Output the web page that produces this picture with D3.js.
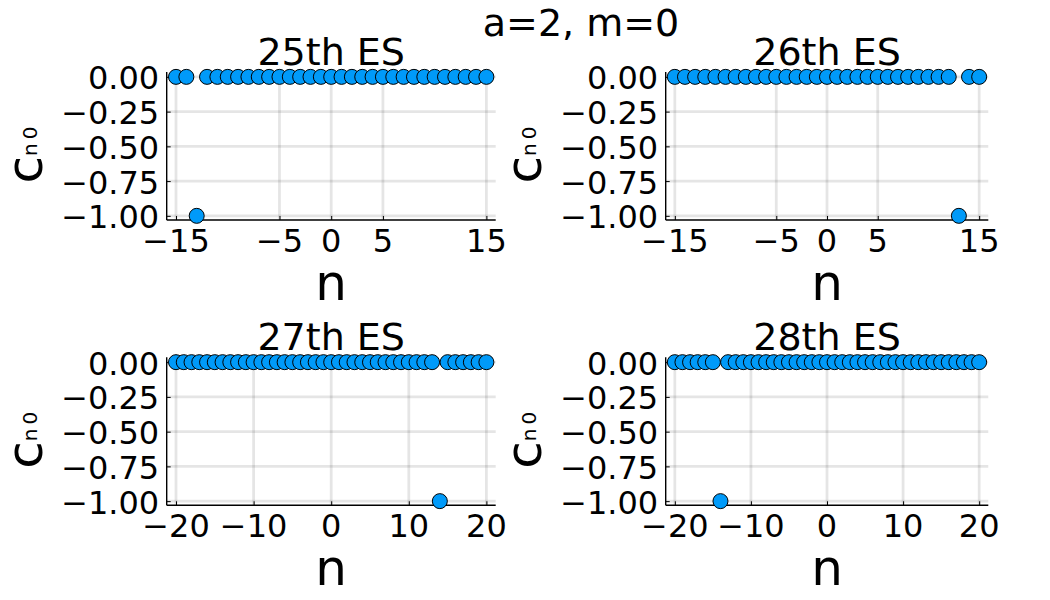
<!DOCTYPE html>
<html>
<head>
<meta charset="utf-8">
<script src="https://cdn.jsdelivr.net/npm/d3@7"></script>
<style>
  body { margin: 0; background: #fff; }
  text { font-family: "DejaVu Sans", sans-serif; fill: #000; }
</style>
</head>
<body>
<div id="chart"></div>
<script>
// data
var nShort = [-15, -14, -13, -12, -11, -10, -9, -8, -7, -6, -5, -4, -3, -2, -1, 0,
              1, 2, 3, 4, 5, 6, 7, 8, 9, 10, 11, 12, 13, 14, 15];
var nLong = [-20, -19, -18, -17, -16, -15, -14, -13, -12, -11, -10, -9, -8, -7, -6, -5, -4, -3, -2, -1, 0,
             1, 2, 3, 4, 5, 6, 7, 8, 9, 10, 11, 12, 13, 14, 15, 16, 17, 18, 19, 20];

var c25 = [0, 0, -1, 0, 0, 0, 0, 0, 0, 0, 0, 0, 0, 0, 0, 0,
           0, 0, 0, 0, 0, 0, 0, 0, 0, 0, 0, 0, 0, 0, 0];
var c26 = [0, 0, 0, 0, 0, 0, 0, 0, 0, 0, 0, 0, 0, 0, 0, 0,
           0, 0, 0, 0, 0, 0, 0, 0, 0, 0, 0, 0, -1, 0, 0];
var c27 = [0, 0, 0, 0, 0, 0, 0, 0, 0, 0, 0, 0, 0, 0, 0, 0, 0, 0, 0, 0, 0,
           0, 0, 0, 0, 0, 0, 0, 0, 0, 0, 0, 0, 0, -1, 0, 0, 0, 0, 0, 0];
var c28 = [0, 0, 0, 0, 0, 0, -1, 0, 0, 0, 0, 0, 0, 0, 0, 0, 0, 0, 0, 0, 0,
           0, 0, 0, 0, 0, 0, 0, 0, 0, 0, 0, 0, 0, 0, 0, 0, 0, 0, 0, 0];

var titles = ["25th ES", "26th ES", "27th ES", "28th ES"];
var xTicksShort = [-15, -5, 0, 5, 15];
var xTicksLong = [-20, -10, 0, 10, 20];
var yTicks = [0, -0.25, -0.5, -0.75, -1];
var mainTitle = "a=2, m=0";

var width = 1050, height = 600;
var svg = d3.select('#chart').append('svg')
    .attr('width', width)
    .attr('height', height);

// panel frames (plot area boxes)
var panels = [
    { title: titles[0], n: nShort, c: c25, ticks: xTicksShort, dom: [-15.9, 15.9], x0: 166.7, x1: 495.7, y0: 72, y1: 220 },
    { title: titles[1], n: nShort, c: c26, ticks: xTicksShort, dom: [-15.9, 15.9], x0: 665.7, x1: 988.3, y0: 72, y1: 220 },
    { title: titles[2], n: nLong, c: c27, ticks: xTicksLong, dom: [-21.2, 21.2], x0: 166.7, x1: 495.7, y0: 357.3, y1: 505.3 },
    { title: titles[3], n: nLong, c: c28, ticks: xTicksLong, dom: [-21.2, 21.2], x0: 665.7, x1: 988.3, y0: 357.3, y1: 505.3 }
];

var fmt = function (v) { return d3.format('.2f')(v).replace('-', '\u2212'); };
var fmtX = function (v) { return String(v).replace('-', '\u2212'); };

panels.forEach(function (p) {
    var x = d3.scaleLinear().domain(p.dom).range([p.x0, p.x1]);
    var y = d3.scaleLinear().domain([-1.03, 0.035]).range([p.y1, p.y0]);
    var g = svg.append('g');

    // grid
    g.selectAll('.vgrid').data(p.ticks).enter().append('line')
        .attr('x1', function (d) { return x(d); })
        .attr('x2', function (d) { return x(d); })
        .attr('y1', p.y0).attr('y2', p.y1)
        .style('stroke', '#000').style('stroke-opacity', 0.1).attr('stroke-width', 2.8);
    g.selectAll('.hgrid').data(yTicks).enter().append('line')
        .attr('x1', p.x0).attr('x2', p.x1)
        .attr('y1', function (d) { return y(d); })
        .attr('y2', function (d) { return y(d); })
        .style('stroke', '#000').style('stroke-opacity', 0.1).attr('stroke-width', 2.8);

    // axes: ticks drawn inward
    var xAxis = d3.axisTop(x).tickValues(p.ticks).tickSize(4).tickFormat('');
    g.append('g').attr('transform', 'translate(0,' + p.y1 + ')').call(xAxis)
        .call(function (s) { s.select('.domain').remove(); });
    var yAxis = d3.axisRight(y).tickValues(yTicks).tickSize(4).tickFormat('');
    g.append('g').attr('transform', 'translate(' + p.x0 + ',0)').call(yAxis)
        .call(function (s) { s.select('.domain').remove(); });
    g.selectAll('.tick line').style('stroke', '#000').attr('stroke-width', 1);

    g.append('line').attr('x1', p.x0).attr('x2', p.x1).attr('y1', p.y1).attr('y2', p.y1)
        .style('stroke', '#000').attr('stroke-width', 1.4);
    g.append('line').attr('x1', p.x0).attr('x2', p.x0).attr('y1', p.y0).attr('y2', p.y1)
        .style('stroke', '#000').attr('stroke-width', 1.4);

    // tick labels
    g.selectAll('.xlab').data(p.ticks).enter().append('text')
        .attr('x', function (d) { return x(d); })
        .attr('y', p.y1 + 32)
        .attr('text-anchor', 'middle')
        .style('font-size', '32px')
        .text(fmtX);
    g.selectAll('.ylab').data(yTicks).enter().append('text')
        .attr('x', p.x0 - 7.5)
        .attr('y', function (d) { return y(d) + 12.5; })
        .attr('text-anchor', 'end')
        .style('font-size', '32px')
        .text(fmt);

    // titles and guides
    g.append('text')
        .attr('x', (p.x0 + p.x1) / 2).attr('y', p.y0 - 7)
        .attr('text-anchor', 'middle')
        .style('font-size', '38px')
        .text(p.title);
    g.append('text')
        .attr('x', (p.x0 + p.x1) / 2).attr('y', p.y1 + 80)
        .attr('text-anchor', 'middle')
        .style('font-size', '50px')
        .text('n');
    var yl = g.append('text')
        .attr('transform', 'translate(' + (p.x0 - 125) + ',' + ((p.y0 + p.y1) / 2 + 7) + ') rotate(-90)')
        .attr('text-anchor', 'middle')
        .style('font-size', '50px');
    yl.append('tspan').text('c');
    yl.append('tspan').attr('dy', -5).style('font-size', '20px')
        .style('letter-spacing', '4px').text('n0');

    // markers
    var pts = p.n.map(function (v, i) { return { n: v, c: p.c[i] }; });
    g.selectAll('.pt').data(pts).enter().append('circle')
        .attr('cx', function (d) { return x(d.n); })
        .attr('cy', function (d) { return y(d.c); })
        .attr('r', 7.5)
        .style('fill', '#009af9')
        .style('stroke', '#000')
        .attr('stroke-width', 1);
});

svg.append('text')
    .attr('x', 581).attr('y', 35.5)
    .attr('text-anchor', 'middle')
    .style('font-size', '38px')
    .text(mainTitle);
</script>
</body>
</html>
